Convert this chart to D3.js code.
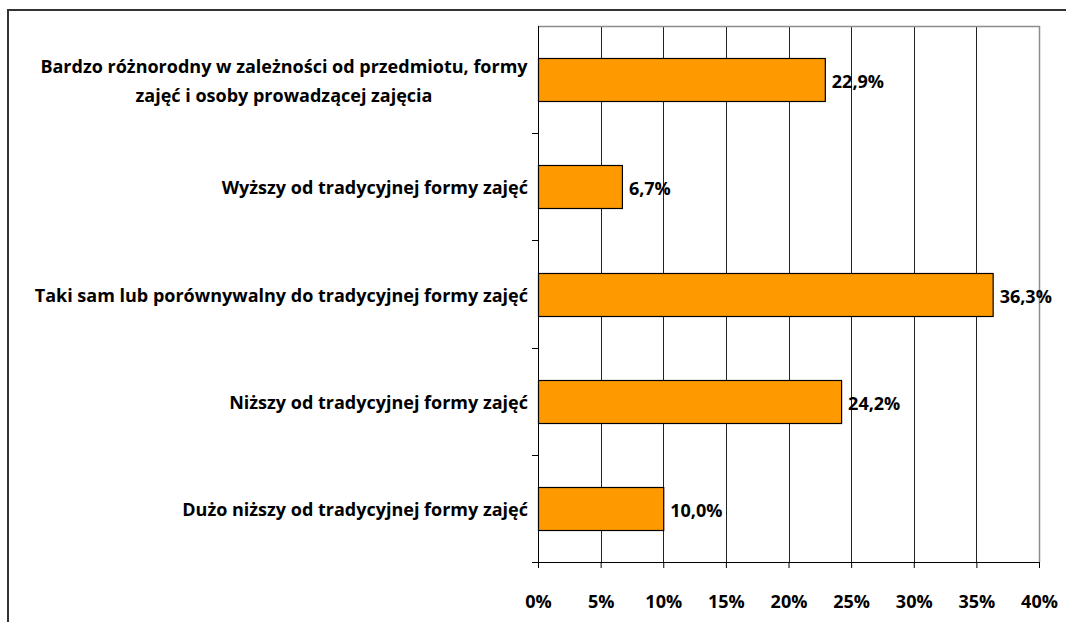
<!DOCTYPE html>
<html>
<head>
<meta charset="utf-8">
<script src="https://cdn.jsdelivr.net/npm/d3@7"></script>
<style>
  body { margin: 0; background: #fff; }
  svg { display: block; font-family: "Open Sans", Lato, sans-serif; font-weight: bold; }
</style>
</head>
<body>
<svg id="chart" width="1066" height="622"></svg>
<script>
// kategorie od góry do dołu
var kategorie = [
    ["Bardzo różnorodny w zależności od przedmiotu, formy", "zajęć i osoby prowadzącej zajęcia"],
    ["Wyższy od tradycyjnej formy zajęć"],
    ["Taki sam lub porównywalny do tradycyjnej formy zajęć"],
    ["Niższy od tradycyjnej formy zajęć"],
    ["Dużo niższy od tradycyjnej formy zajęć"]
];
var wartosci = [22.9, 6.7, 36.3, 24.2, 10.0];
var ticki = [0, 5, 10, 15, 20, 25, 30, 35, 40];

var svg = d3.select("#chart");
var mL = 538, mR = 1039, mT = 26, mB = 562;
var fs = "18px";

var x = d3.scaleLinear().domain([0, 40]).range([mL, mR]);
var y = d3.scaleBand()
    .domain(d3.range(kategorie.length))
    .range([mT, mB])
    .paddingInner(0.6)
    .paddingOuter(0.3);

// ramka wykresu (ucięta z prawej i na dole)
svg.append("rect")
    .attr("x", 8).attr("y", 10)
    .attr("width", 1100).attr("height", 700)
    .style("fill", "none")
    .style("stroke", "#333")
    .style("stroke-width", 2);

// linie siatki
svg.selectAll(".grid")
    .data(ticki.filter(function(d) { return d > 0 && d < 40; }))
    .enter()
    .append("line")
    .attr("class", "grid")
    .attr("x1", function(d) { return Math.round(x(d)) + 0.5; })
    .attr("x2", function(d) { return Math.round(x(d)) + 0.5; })
    .attr("y1", mT).attr("y2", mB)
    .style("stroke", "#222")
    .style("stroke-width", 1);

// obramowanie obszaru wykresu (góra i prawa, szare)
svg.append("path")
    .attr("d", "M" + mL + "," + (mT + 0.5) + "H" + (mR + 0.5) + "V" + mB)
    .style("fill", "none")
    .style("stroke", "#8c8c8c")
    .style("stroke-width", 1.5);

// słupki
svg.selectAll(".bar")
    .data(wartosci)
    .enter()
    .append("rect")
    .attr("class", "bar")
    .attr("x", x(0) + 0.5)
    .attr("y", function(d, i) { return Math.round(y(i)) + 0.5; })
    .attr("width", function(d) { return x(d) - x(0); })
    .attr("height", Math.round(y.bandwidth()))
    .style("fill", "#ff9900")
    .style("stroke", "#000")
    .style("stroke-width", 1.2);

// etykiety wartości
svg.selectAll(".val")
    .data(wartosci)
    .enter()
    .append("text")
    .attr("class", "val")
    .attr("x", function(d) { return x(d) + 7; })
    .attr("y", function(d, i) { return y(i) + y.bandwidth() / 2; })
    .attr("dy", "0.48em")
    .style("font-size", fs)
    .style("fill", "#000")
    .text(function(d) { return d.toFixed(1).replace(".", ",") + "%"; });

// oś X
var osX = svg.append("g")
    .attr("transform", "translate(0," + mB + ")")
    .call(d3.axisBottom(x).tickValues(ticki).tickSize(6).tickPadding(27)
        .tickFormat(function(d) { return d + "%"; }));
osX.select(".domain").attr("d", "M" + (mL - 6) + ",0.5H" + (mR + 0.5)).style("stroke", "#000");
osX.selectAll(".tick line").style("stroke", "#000");
osX.selectAll("text")
    .style("font-family", "'Open Sans', sans-serif")
    .style("font-weight", "bold")
    .style("font-size", fs)
    .style("fill", "#000");

// oś Y
svg.append("line")
    .attr("x1", mL + 0.5).attr("x2", mL + 0.5)
    .attr("y1", mT).attr("y2", mB + 6)
    .style("stroke", "#000");
svg.selectAll(".ytick")
    .data(d3.range(1, kategorie.length))
    .enter()
    .append("line")
    .attr("class", "ytick")
    .attr("x1", mL - 6).attr("x2", mL)
    .attr("y1", function(i) { return Math.round(mT + i * y.step()) + 0.5; })
    .attr("y2", function(i) { return Math.round(mT + i * y.step()) + 0.5; })
    .style("stroke", "#000");

// etykiety kategorii (blok wyśrodkowany, dosunięty do prawej)
var lineH = 29;
kategorie.forEach(function(linie, i) {
    var g = svg.append("text")
        .attr("text-anchor", "middle")
        .style("font-size", fs)
        .style("fill", "#000");
    var cy = mT + (i + 0.5) * y.step();
    linie.forEach(function(t, j) {
        g.append("tspan")
            .attr("x", 0)
            .attr("y", cy + 7.5 + (j - (linie.length - 1) / 2) * lineH)
            .text(t);
    });
    var w = g.node().getBBox().width;
    g.selectAll("tspan").attr("x", 528 - w / 2);
});
</script>
</body>
</html>
